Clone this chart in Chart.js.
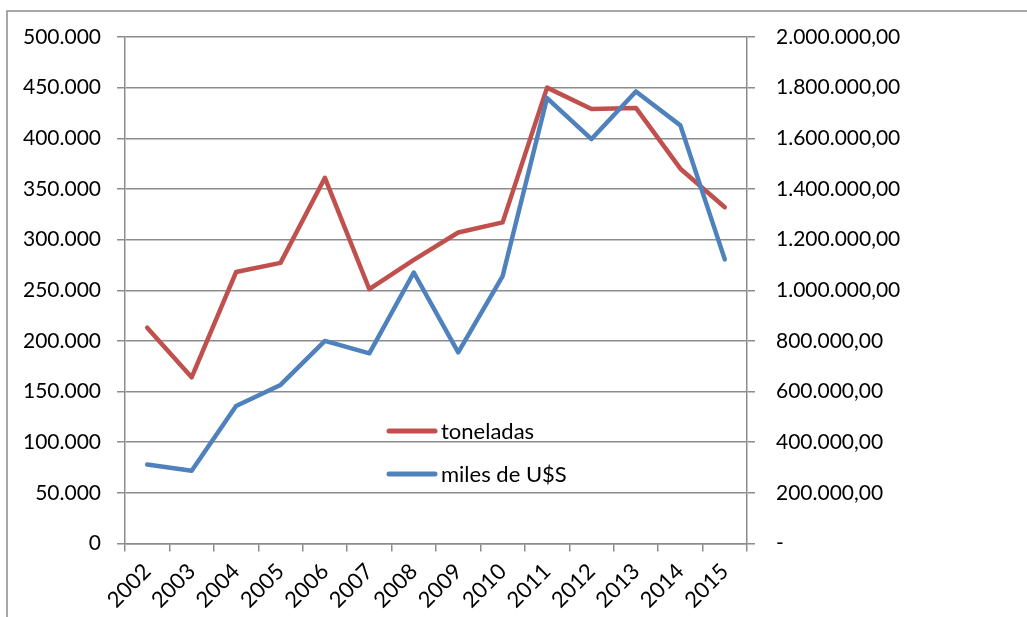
<!DOCTYPE html>
<html>
<head>
<meta charset="utf-8">
<script src="https://cdn.jsdelivr.net/npm/chart.js@4.4.1/dist/chart.umd.min.js"></script>
<style>
  html, body { margin: 0; padding: 0; background: #fff; }
  #wrap { width: 1027px; height: 617px; position: relative; }
</style>
</head>
<body>
<div id="wrap"><canvas id="c" width="1027" height="617"></canvas></div>
<script>
const years = ['2002','2003','2004','2005','2006','2007','2008','2009','2010','2011','2012','2013','2014','2015'];
const toneladas = [213000, 164000, 268000, 277000, 361000, 251000, 280000, 307000, 317000, 450000, 429000, 430000, 370000, 332000];
const milesUSS = [312000, 287000, 543000, 626000, 800000, 751000, 1070000, 755000, 1056000, 1759000, 1597000, 1785000, 1651000, 1122000];
const seriesNames = ['toneladas', 'miles de U$S'];

const GRID = '#8c8c8c';
const FONT = { family: 'Lato, "Open Sans", sans-serif', size: 21 };
const XFONT = { family: 'Lato, "Open Sans", sans-serif', size: 22 };

function fmtThousands(v) {
  return Math.round(v).toString().replace(/\B(?=(\d{3})+(?!\d))/g, '.');
}

const frame = {
  id: 'frame',
  beforeDraw(chart) {
    const ctx = chart.ctx;
    ctx.save();
    ctx.fillStyle = '#fff';
    ctx.fillRect(0, 0, chart.width, chart.height);
    ctx.strokeStyle = GRID;
    ctx.lineWidth = 1.5;
    ctx.beginPath();
    ctx.moveTo(7, chart.height);
    ctx.lineTo(7, 11);
    ctx.lineTo(chart.width, 11);
    ctx.stroke();
    ctx.restore();
  }
};

const innerLegend = {
  id: 'innerLegend',
  afterDraw(chart) {
    const ctx = chart.ctx;
    const x0 = 389, x1 = 435, tx = 441;
    const ys = [431, 474];
    ctx.save();
    ctx.font = '22px ' + FONT.family;
    ctx.textBaseline = 'middle';
    ctx.textAlign = 'left';
    chart.data.datasets.forEach((ds, i) => {
      ctx.strokeStyle = ds.borderColor;
      ctx.lineWidth = 5;
      ctx.lineCap = 'round';
      ctx.beginPath();
      ctx.moveTo(x0, ys[i]);
      ctx.lineTo(x1, ys[i]);
      ctx.stroke();
      ctx.fillStyle = '#000';
      ctx.fillText(ds.label, tx, ys[i] + 1);
    });
    ctx.restore();
  }
};

new Chart(document.getElementById('c'), {
  type: 'line',
  data: {
    labels: years,
    datasets: [
      { label: seriesNames[0], data: toneladas, yAxisID: 'y', borderColor: '#C0504D', backgroundColor: '#C0504D',
        borderWidth: 4.5, pointRadius: 0, tension: 0, borderJoinStyle: 'round', borderCapStyle: 'round', order: 2 },
      { label: seriesNames[1], data: milesUSS, yAxisID: 'y1', borderColor: '#4F81BD', backgroundColor: '#4F81BD',
        borderWidth: 4.5, pointRadius: 0, tension: 0, borderJoinStyle: 'round', borderCapStyle: 'round', order: 1 }
    ]
  },
  options: {
    responsive: false,
    animation: false,
    layout: { padding: { top: 37, left: 0, right: 0, bottom: 0 } },
    plugins: { legend: { display: false }, tooltip: { enabled: false } },
    scales: {
      x: {
        type: 'category',
        offset: true,
        grid: { offset: true, drawOnChartArea: false, drawTicks: true, tickLength: 8, color: GRID, lineWidth: 1.5 },
        border: { color: GRID, width: 1.5 },
        ticks: { maxRotation: 45, minRotation: 45, font: XFONT, color: '#000', padding: 7, autoSkip: false },
        afterFit(s) { s.height = 73.5; }
      },
      y: {
        position: 'left',
        min: 0, max: 500000,
        grid: { color: GRID, lineWidth: 1.5, tickLength: 8, drawTicks: true },
        border: { color: GRID, width: 1.5 },
        ticks: { stepSize: 50000, font: FONT, color: '#000', padding: 16, callback: v => fmtThousands(v) },
        afterFit(s) { s.width = 125; }
      },
      y1: {
        position: 'right',
        min: 0, max: 2000000,
        grid: { drawOnChartArea: false, color: GRID, lineWidth: 1.5, tickLength: 8, drawTicks: true },
        border: { color: GRID, width: 1.5 },
        ticks: { stepSize: 200000, font: FONT, color: '#000', padding: 21,
          callback: v => v === 0 ? '-' : fmtThousands(v) + ',00' },
        afterFit(s) { s.width = 280; }
      }
    }
  },
  plugins: [frame, innerLegend]
});
</script>
</body>
</html>
